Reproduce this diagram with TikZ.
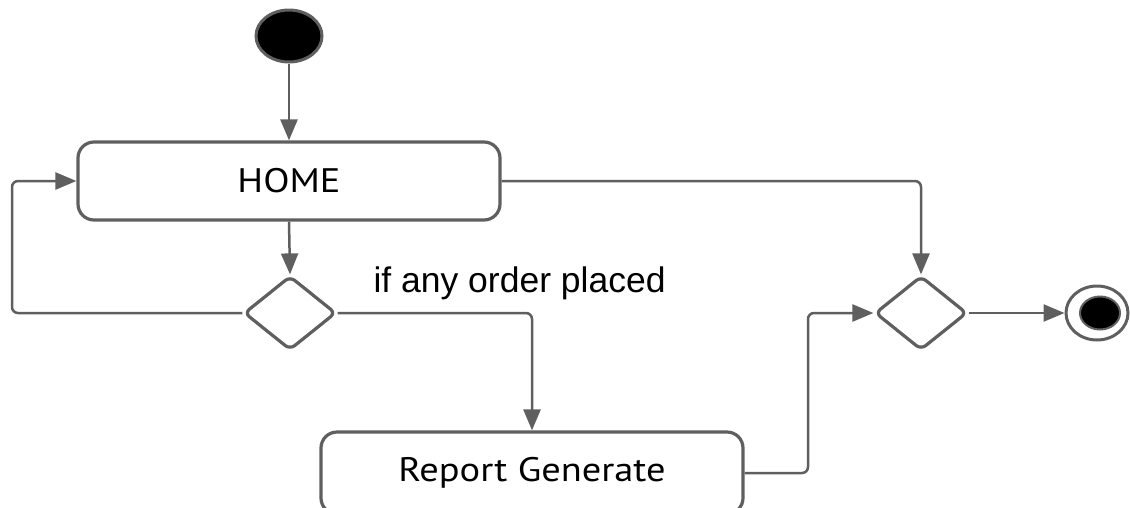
\documentclass[tikz,border=0pt]{standalone}
\usepackage{fontspec}
\setmainfont{Liberation Sans}
\newfontfamily\boxfont[FakeStretch=1.13]{PT Sans}
\usetikzlibrary{shapes.geometric,arrows.meta}
\definecolor{linegray}{HTML}{5F5F5F}
\begin{document}
\begin{tikzpicture}[x=1pt,y=-1pt,
  flow/.style={draw=linegray, line width=2.5pt, rounded corners=6pt,
    -{Triangle[length=21pt,width=17pt]}},
  action/.style={draw=linegray, line width=3.2pt, rounded corners=16pt, fill=white,
    inner sep=0pt},
  choice/.style={diamond, draw=linegray, line width=3.2pt, rounded corners=6pt,
    minimum width=92pt, minimum height=74pt, inner sep=0pt, fill=white},
  startdot/.style={ellipse, fill=black, draw=linegray, line width=3pt,
    minimum width=66pt, minimum height=52pt, inner sep=0pt},
  endring/.style={ellipse, draw=linegray, line width=3pt, fill=white,
    minimum width=62pt, minimum height=54pt, inner sep=0pt},
  enddot/.style={ellipse, fill=black, draw=linegray, line width=2pt,
    minimum width=40pt, minimum height=33pt, inner sep=0pt}]
  \useasboundingbox (0,0) rectangle (1130,507);
  \clip (0,0) rectangle (1130,507);

  % nodes
  \node[startdot] (start) at (289,36) {};
  \node[action, minimum width=422pt, minimum height=78pt] (home) at (289,181)
    {\boxfont\fontsize{34}{40}\selectfont HOME};
  \node[choice] (d1) at (290,313) {};
  \node[action, minimum width=422pt, minimum height=82pt] (report) at (532,473)
    {\raisebox{6pt}{\boxfont\fontsize{34}{40}\selectfont Report Generate}};
  \node[choice] (d2) at (921,313) {};
  \node[endring] (end) at (1097,313) {};
  \node[enddot] (endin) at (1100,313) {};
  \node[anchor=base west, font=\fontsize{35.5}{42}\selectfont] (cond) at (370,292)
    {if any order placed};

  % routing points
  \coordinate (loopx) at (12,313);
  \coordinate (joinx) at (808,0);

  % connectors
  \draw[flow] (start.south) -- (home.north);
  \draw[flow] (home.south) -- (d1.north);
  \draw[flow] (d1.west) -- (loopx) |- (home.west);
  \draw[flow] (d1.east) -| (report.north);
  \draw[flow] (report.east) -- (report.east -| joinx) |- (d2.west);
  \draw[flow] (home.east) -| (d2.north);
  \draw[flow] (d2.east) -- (end.west);
\end{tikzpicture}
\end{document}
